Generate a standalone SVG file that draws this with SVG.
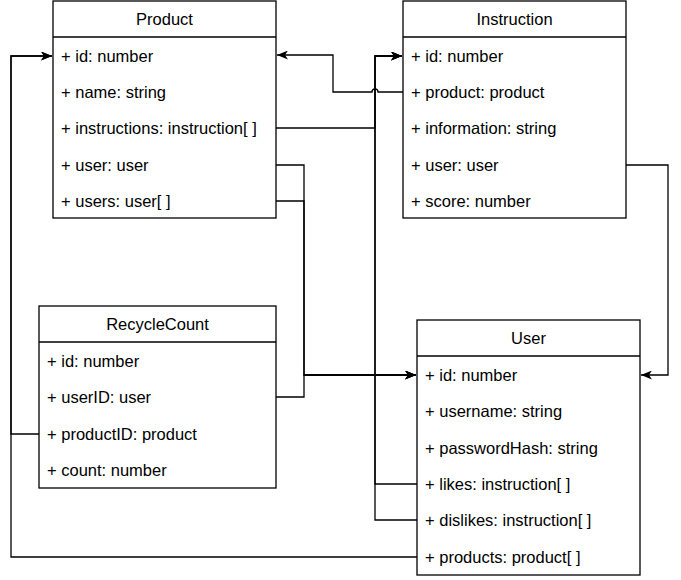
<svg xmlns="http://www.w3.org/2000/svg" width="681" height="580" viewBox="0 0 681 580">
<style>
.box{fill:#fff;stroke:#000;stroke-width:1.3}
.hd{stroke:#000;stroke-width:1.3}
.t{font-family:"Liberation Sans",Arial,sans-serif;font-size:16.5px;fill:#000}
.ti{font-family:"Liberation Sans",Arial,sans-serif;font-size:16.5px;fill:#000;text-anchor:middle}
.c{fill:none;stroke:#000;stroke-width:1.3}
</style>
<defs>
<marker id="arr" viewBox="0 0 11 9" refX="11" refY="4.5" markerWidth="11" markerHeight="9" markerUnits="userSpaceOnUse" orient="auto">
<path d="M0,0 L11,4.5 L0,9 L3,4.5 z" fill="#000"/>
</marker>
</defs>
<rect width="681" height="580" fill="#fff"/>
<g id="connectors">
<path class="c" d="M403,92 H378 A3,3 0 0 0 372,92 H333 V55 H277" marker-end="url(#arr)"/>
<path class="c" d="M276,128 H375 V56 H402" marker-end="url(#arr)"/>
<path class="c" d="M417,484 H375 V56 H402" marker-end="url(#arr)"/>
<path class="c" d="M417,520 H375 V56 H402" marker-end="url(#arr)"/>
<path class="c" d="M276,165 H304 V375 H416" marker-end="url(#arr)"/>
<path class="c" d="M276,201 H304 V375 H416" marker-end="url(#arr)"/>
<path class="c" d="M276,397 H304 V375 H416" marker-end="url(#arr)"/>
<path class="c" d="M626,165 H668 V375 H641" marker-end="url(#arr)"/>
<path class="c" d="M39,434 H11 V56 H52" marker-end="url(#arr)"/>
<path class="c" d="M417,557 H11 V56 H52" marker-end="url(#arr)"/>
</g>
<g id="product">
<rect class="box" x="53" y="1" width="223" height="217"/>
<line class="hd" x1="53" y1="37" x2="276" y2="37"/>
<text class="ti" x="164.5" y="25">Product</text>
<text class="t" x="61" y="62">+ id: number</text>
<text class="t" x="61" y="98">+ name: string</text>
<text class="t" x="61" y="134">+ instructions: instruction[ ]</text>
<text class="t" x="61" y="171">+ user: user</text>
<text class="t" x="61" y="207">+ users: user[ ]</text>
</g>
<g id="instruction">
<rect class="box" x="403" y="1" width="223" height="217"/>
<line class="hd" x1="403" y1="37" x2="626" y2="37"/>
<text class="ti" x="514.5" y="25">Instruction</text>
<text class="t" x="411" y="62">+ id: number</text>
<text class="t" x="411" y="98">+ product: product</text>
<text class="t" x="411" y="134">+ information: string</text>
<text class="t" x="411" y="171">+ user: user</text>
<text class="t" x="411" y="207">+ score: number</text>
</g>
<g id="recyclecount">
<rect class="box" x="39" y="306" width="237" height="182"/>
<line class="hd" x1="39" y1="342" x2="276" y2="342"/>
<text class="ti" x="157.5" y="330">RecycleCount</text>
<text class="t" x="47" y="367">+ id: number</text>
<text class="t" x="47" y="403">+ userID: user</text>
<text class="t" x="47" y="440">+ productID: product</text>
<text class="t" x="47" y="476">+ count: number</text>
</g>
<g id="user">
<rect class="box" x="417" y="320" width="223" height="255"/>
<line class="hd" x1="417" y1="356" x2="640" y2="356"/>
<text class="ti" x="528.5" y="344">User</text>
<text class="t" x="425" y="381">+ id: number</text>
<text class="t" x="425" y="417">+ username: string</text>
<text class="t" x="425" y="454">+ passwordHash: string</text>
<text class="t" x="425" y="490">+ likes: instruction[ ]</text>
<text class="t" x="425" y="526">+ dislikes: instruction[ ]</text>
<text class="t" x="425" y="563">+ products: product[ ]</text>
</g>
</svg>
